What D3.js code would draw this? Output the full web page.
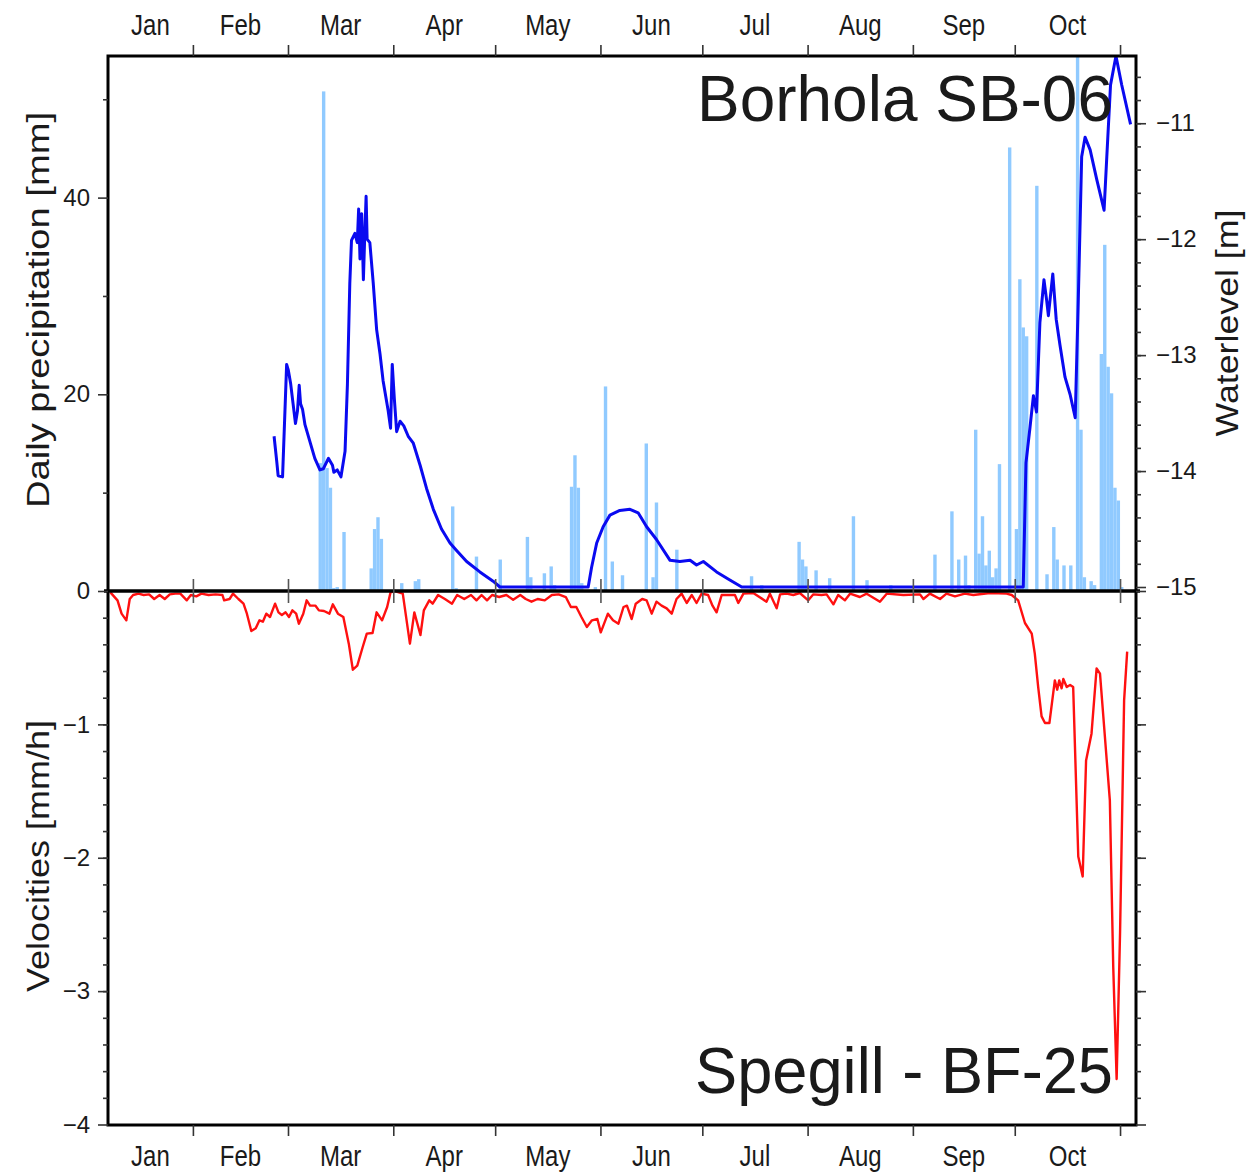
<!DOCTYPE html>
<html>
<head>
<meta charset="utf-8">
<script src="https://cdn.jsdelivr.net/npm/d3@7"></script>
<style>
body { margin: 0; background: #fff; }
text { font-family: "Liberation Sans", Arial, sans-serif; fill: #1a1a1a; }
</style>
</head>
<body>
<script>
// days counted from Jan 1 (0 = Jan 1), year 2015
var monthNames = ["Jan", "Feb", "Mar", "Apr", "May", "Jun", "Jul", "Aug", "Sep", "Oct", "Nov"];

// daily precipitation [mm]
var precipDay = [68, 69, 70, 71, 72, 73, 75, 83, 84, 85, 86, 92, 96, 97, 107, 108, 114, 121, 129, 130,
  134, 136, 137, 142, 143, 144, 145, 149, 152, 154, 157, 164, 166, 167, 173, 195, 198,
  209, 210, 211, 214, 218, 225, 229, 236, 249, 254, 256, 258, 259, 261, 262, 263, 264, 265, 266, 267, 268,
  271, 273, 274, 275, 276, 279, 282, 284, 285, 287, 289, 291, 292, 293, 295, 296,
  298, 299, 300, 301, 302, 303, 304];
var precipMm = [13, 50.8, 12.5, 10.5, 0.3, 0.4, 6, 2.3, 6.3, 7.5, 5.3, 0.8, 1.0, 1.2, 8.6, 0.3, 3.5, 3.2, 5.5, 1.4,
  1.8, 2.5, 0.6, 10.6, 13.8, 10.5, 0.8, 0.4, 20.8, 3, 1.6, 15, 1.4, 9, 4.2, 1.5, 0.6,
  5, 3.2, 2.5, 2.1, 1.3, 7.6, 1.1, 0.6, 3.7, 8.1, 3.2, 3.6, 0.6, 16.4, 3.8, 7.6, 2.6, 4.1, 1.4, 2.3, 12.9,
  45.1, 6.3, 31.7, 26.8, 25.9, 41.2, 1.7, 6.5, 3.2, 2.6, 2.6, 58, 16.4, 1.4, 1.0, 0.6,
  24.1, 35.2, 22.8, 20.1, 10.5, 9.2, 0.4];

// waterlevel [m]
var levelDay = [54.9, 55.7, 56.1, 57.4, 58.6, 59.1, 59.8, 60.5, 61.2, 61.8, 62.3, 62.7, 63.3, 64.0, 65.5, 66.9,
  68.4, 69.4, 70.9, 72.1, 72.5, 73.5, 74.6, 75.8, 76.5, 77.2, 77.7, 78.7, 79.4, 79.8, 80.2, 80.7, 81.2,
  81.6, 82.0, 82.3, 83.1, 84.1, 85.1, 86.1, 87.0, 88.5, 89.2, 89.7, 90.3, 91.0, 92.0, 93.1, 94.4, 95.9,
  97.9, 99.8, 101.8, 104.2, 106.7, 108.5, 111.6, 115.5, 119.4, 121.4, 147.4, 148.4, 149.9, 151.8, 153.8,
  156.7, 159.7, 162.1, 164.6, 167.5, 171.5, 174.4, 177.4, 179.3, 181.3, 185.2, 189.1, 192.6, 275.5,
  276.3, 277.5, 278.5, 279.4, 280.4, 281.6, 282.4, 282.9, 284.2, 285.2, 286.3, 287.8, 289.3, 290.8,
  291.7, 292.7, 293.7, 295.2, 297.1, 299.3, 300.1, 301.2, 302.8, 304.5, 307.1];
var levelM = [-13.70, -13.92, -14.04, -14.05, -13.08, -13.13, -13.25, -13.42, -13.59, -13.48, -13.26, -13.42,
  -13.47, -13.60, -13.75, -13.89, -13.99, -13.98, -13.89, -13.95, -14.01, -13.99, -14.05, -13.83, -13.25,
  -12.38, -12.01, -11.95, -12.03, -11.74, -12.17, -11.78, -12.35, -11.97, -11.63, -12.00, -12.03, -12.38,
  -12.78, -12.99, -13.22, -13.48, -13.63, -13.08, -13.37, -13.66, -13.57, -13.61, -13.70, -13.76, -13.95,
  -14.15, -14.33, -14.50, -14.62, -14.68, -14.78, -14.87, -14.95, -15.0, -15.0, -14.83, -14.62, -14.48,
  -14.38, -14.34, -14.33, -14.36, -14.48, -14.59, -14.77, -14.78, -14.77, -14.81, -14.78, -14.87, -14.94,
  -15.0, -15.0, -13.93, -13.62, -13.35, -13.49, -12.72, -12.35, -12.53, -12.66, -12.30, -12.69, -12.91,
  -13.19, -13.34, -13.54, -12.53, -11.29, -11.12, -11.23, -11.48, -11.75, -11.29, -10.67, -10.42, -10.67,
  -11.01];

// velocities [mm/h]
var velDay = [6.7, 8.8, 10, 11.4, 12.4, 13.4, 15, 16.5, 18.1, 19.6, 21.2, 22.7, 24.2, 25.8, 27.3, 29.2, 30.4,
  32, 33.5, 35.6, 37.7, 39.7, 40.2, 41.8, 42.8, 44.4, 45.9, 46.9, 48.2, 49.5, 50.6, 51.6, 52.6, 53.7, 55.2,
  56.2, 57.2, 58.3, 59.3, 60.3, 61.4, 62.2, 63.5, 64.5, 65.5, 67.1, 68.1, 69.6, 71.2, 72.2, 73.7, 75.3,
  76.9, 78.1, 79.4, 81, 82.2, 83.9, 85.1, 86.7, 88.2, 89.2, 90.5, 92.8, 94.9, 96.2, 98, 99, 100.6, 101.6,
  103.2, 105.2, 107.3, 108.8, 110.9, 112.9, 114.5, 116, 117.6, 119.1, 121.2, 123.3, 125.3, 127.4, 129,
  130.7, 132.5, 134.6, 136.7, 138.7, 140.8, 142.3, 143.9, 145.4, 147, 148.5, 150.1, 151.1, 153.2, 154.7,
  156.3, 157.8, 158.8, 160.2, 161.4, 163.3, 164.6, 166.1, 167.5, 169.0, 170.5, 172.0, 173.4, 174.9, 176.4,
  177.9, 179.3, 180.8, 182.7, 184.0, 185.2, 186.7, 188.2, 190.6, 191.6, 193.1, 196.0, 199.9, 200.9, 202.9,
  203.9, 205.8, 207.8, 209.7, 212.2, 213.7, 216.1, 217.6, 219.6, 221.0, 223.0, 224.5, 227.4, 229.4, 233.3,
  235.3, 240.2, 245.1, 246.1, 248.0, 251.0, 252.9, 255.4, 258.3, 260.8, 265.7, 270.6, 272.1, 274.0, 276.0,
  278.0, 278.9, 279.9, 280.9, 281.9, 283.2, 284.8, 285.5, 286.1, 286.8, 287.3, 288.3, 289.3, 290.2, 291.7,
  293.0, 294.0, 295.6, 297.1, 298.1, 301.0, 302.0, 303.0, 304.0, 305.2, 306.1];
var velMmh = [-0.01, -0.07, -0.17, -0.22, -0.06, -0.03, -0.02, -0.03, -0.025, -0.06, -0.03, -0.06, -0.025,
  -0.02, -0.02, -0.07, -0.03, -0.04, -0.02, -0.03, -0.025, -0.03, -0.07, -0.06, -0.02, -0.06, -0.095, -0.17,
  -0.30, -0.28, -0.22, -0.23, -0.17, -0.195, -0.095, -0.16, -0.18, -0.16, -0.195, -0.145, -0.17, -0.245,
  -0.17, -0.07, -0.11, -0.11, -0.145, -0.15, -0.17, -0.10, -0.17, -0.195, -0.395, -0.59, -0.56, -0.42,
  -0.32, -0.315, -0.16, -0.22, -0.12, -0.01, 0.0, -0.02, -0.395, -0.16, -0.33, -0.145, -0.07, -0.095,
  -0.03, -0.06, -0.095, -0.03, -0.06, -0.03, -0.07, -0.03, -0.07, -0.03, -0.045, -0.03, -0.065, -0.03,
  -0.06, -0.08, -0.06, -0.07, -0.03, -0.025, -0.045, -0.12, -0.12, -0.195, -0.27, -0.22, -0.21, -0.31,
  -0.17, -0.22, -0.245, -0.12, -0.11, -0.21, -0.095, -0.06, -0.07, -0.17, -0.08, -0.11, -0.13, -0.17,
  -0.06, -0.02, -0.09, -0.03, -0.09, -0.02, -0.03, -0.11, -0.16, -0.03, -0.03, -0.03, -0.09, -0.02,
  -0.015, -0.08, -0.02, -0.13, -0.025, -0.02, -0.03, -0.015, -0.07, -0.025, -0.03, -0.025, -0.10, -0.03,
  -0.07, -0.02, -0.045, -0.02, -0.08, -0.02, -0.03, -0.025, -0.06, -0.02, -0.06, -0.02, -0.04, -0.02,
  -0.03, -0.015, -0.02, -0.03, -0.07, -0.24, -0.32, -0.47, -0.72, -0.94, -0.99, -0.99, -0.67, -0.74,
  -0.67, -0.73, -0.66, -0.72, -0.705, -0.72, -1.99, -2.14, -1.27, -1.07, -0.58, -0.62, -1.57, -2.82,
  -3.66, -2.57, -0.82, -0.455];

var precipMajor = [0, 20, 40], precipMinor = [10, 30, 50];
var levelMajor = [-11, -12, -13, -14, -15];
var velMajor = [0, -1, -2, -3, -4];

var L = 108, R = 1136, T = 56, M = 591, B = 1125;
var t0 = Date.UTC(2015, 0, 1);
function dayDate(d) { return new Date(t0 + d * 864e5); }

var x = d3.scaleUtc().domain([dayDate(6.0), dayDate(308.7)]).range([L, R]);
var yP = d3.scaleLinear().domain([0, 54.4]).range([M, T]);
var yW = d3.scaleLinear().domain([-15, -10.42]).range([587, T]);
var yV = d3.scaleLinear().domain([-4, 0]).range([1124.5, M]);

var svg = d3.select("body").append("svg").attr("width", 1249).attr("height", 1175);

svg.append("clipPath").attr("id", "up").append("rect")
  .attr("x", L).attr("y", T).attr("width", R - L).attr("height", M - T);
svg.append("clipPath").attr("id", "all").append("rect")
  .attr("x", L).attr("y", T).attr("width", R - L).attr("height", B - T);

// precipitation bars
svg.append("g").attr("clip-path", "url(#up)")
  .selectAll("rect").data(precipDay).enter().append("rect")
  .attr("x", function (d) { return x(dayDate(d)); })
  .attr("width", function (d) { return x(dayDate(d + 1)) - x(dayDate(d)); })
  .attr("y", function (d, i) { return yP(precipMm[i]); })
  .attr("height", function (d, i) { return M - yP(precipMm[i]); })
  .attr("fill", "#90caff");

var lineW = d3.line()
  .x(function (d) { return x(dayDate(d)); })
  .y(function (d, i) { return yW(levelM[i]); });
svg.append("path").attr("clip-path", "url(#all)")
  .attr("d", lineW(levelDay))
  .attr("fill", "none").attr("stroke", "#0a0af0").attr("stroke-width", 3)
  .attr("stroke-linejoin", "round");

var lineV = d3.line()
  .x(function (d) { return x(dayDate(d)); })
  .y(function (d, i) { return yV(velMmh[i]); });
svg.append("path").attr("clip-path", "url(#all)")
  .attr("d", lineV(velDay))
  .attr("fill", "none").attr("stroke", "#ff1010").attr("stroke-width", 2.4)
  .attr("stroke-linejoin", "round");

// frame and zero line
svg.append("rect").attr("x", L).attr("y", T).attr("width", R - L).attr("height", B - T)
  .attr("fill", "none").attr("stroke", "#000").attr("stroke-width", 3);
svg.append("line").attr("x1", L - 4).attr("x2", R + 4).attr("y1", M).attr("y2", M)
  .attr("stroke", "#000").attr("stroke-width", 3.5);

function styleAxis(g) {
  g.select(".domain").remove();
  g.selectAll(".tick line").attr("stroke", "#333").attr("stroke-width", 1.6);
  g.selectAll(".tick text").attr("font-size", 24).attr("fill", "#1a1a1a")
    .attr("font-family", "'Liberation Sans', Arial, sans-serif");
}

var fmt = d3.format("d");
var monthStarts = d3.utcMonth.range(dayDate(6.0), dayDate(308.7));

// month ticks
svg.append("g").attr("transform", "translate(0," + T + ")")
  .call(d3.axisTop(x).tickValues(monthStarts).tickSize(11).tickFormat("")).call(styleAxis);
svg.append("g").attr("transform", "translate(0," + B + ")")
  .call(d3.axisBottom(x).tickValues(monthStarts).tickSize(11).tickFormat("")).call(styleAxis);
svg.append("g").attr("transform", "translate(0," + (M - 12) + ")")
  .call(d3.axisBottom(x).tickValues(monthStarts).tickSize(24).tickFormat("")).call(styleAxis)
  .selectAll(".tick line").attr("stroke", "#555");

// month labels
var d0 = x.domain()[0], d1 = x.domain()[1];
var monthLabels = monthStarts.slice();
monthLabels.unshift(d3.utcMonth.floor(d0));
monthLabels = monthLabels.filter(function (m) {
  var a = Math.max(+m, +d0), b = Math.min(+d3.utcMonth.offset(m, 1), +d1);
  return (b - a) > 10 * 864e5;
});
[35, 1166].forEach(function (yy) {
  svg.append("g").selectAll("g").data(monthLabels).enter().append("g")
    .attr("transform", function (m) {
      var a = Math.max(+m, +d0), b = Math.min(+d3.utcMonth.offset(m, 1), +d1);
      return "translate(" + x(new Date((a + b) / 2)) + "," + yy + ")";
    })
    .append("text").attr("text-anchor", "middle").attr("font-size", 30)
    .attr("transform", "scale(0.8,1)")
    .text(function (m) { return monthNames[m.getUTCMonth()]; });
});

// left axes
svg.append("g").attr("transform", "translate(" + L + ",0)")
  .call(d3.axisLeft(yP).tickValues(precipMajor).tickSize(10).tickPadding(8).tickFormat(fmt)).call(styleAxis);
svg.append("g").attr("transform", "translate(" + L + ",0)")
  .call(d3.axisLeft(yP).tickValues(precipMinor).tickSize(5).tickFormat("")).call(styleAxis);
var velMinor = d3.range(-3.8, -0.05, 0.2);
svg.append("g").attr("transform", "translate(" + L + ",0)")
  .call(d3.axisLeft(yV).tickValues(velMajor.slice(1)).tickSize(10).tickPadding(8).tickFormat(fmt)).call(styleAxis);
svg.append("g").attr("transform", "translate(" + L + ",0)")
  .call(d3.axisLeft(yV).tickValues(velMinor).tickSize(5).tickFormat("")).call(styleAxis);

// right axes
var levelMinor = d3.range(-14.8, -10.42, 0.2);
svg.append("g").attr("transform", "translate(" + R + ",0)")
  .call(d3.axisRight(yW).tickValues(levelMajor).tickSize(10).tickPadding(10).tickFormat(fmt)).call(styleAxis);
svg.append("g").attr("transform", "translate(" + R + ",0)")
  .call(d3.axisRight(yW).tickValues(levelMinor).tickSize(5).tickFormat("")).call(styleAxis);
svg.append("g").attr("transform", "translate(" + R + ",0)")
  .call(d3.axisRight(yV).tickValues(velMajor).tickSize(10).tickFormat("")).call(styleAxis);
svg.append("g").attr("transform", "translate(" + R + ",0)")
  .call(d3.axisRight(yV).tickValues(velMinor).tickSize(5).tickFormat("")).call(styleAxis);

// axis titles
function vtitle(xx, yy, len, s) {
  svg.append("text").attr("transform", "translate(" + xx + "," + yy + ") rotate(-90)")
    .attr("text-anchor", "middle").attr("font-size", 31)
    .attr("textLength", len).attr("lengthAdjust", "spacingAndGlyphs").text(s);
}
vtitle(49, 310, 396, "Daily precipitation [mm]");
vtitle(49, 856, 272, "Velocities [mm/h]");
vtitle(1238, 323, 227, "Waterlevel [m]");

// station names
svg.append("text").attr("x", 1113).attr("y", 121).attr("text-anchor", "end")
  .attr("font-family", "Lato, 'Open Sans', sans-serif").attr("font-size", 64).attr("fill", "#000")
  .attr("textLength", 416).attr("lengthAdjust", "spacingAndGlyphs").text("Borhola SB-06");
svg.append("text").attr("x", 1113).attr("y", 1093).attr("text-anchor", "end")
  .attr("font-family", "Lato, 'Open Sans', sans-serif").attr("font-size", 64).attr("fill", "#000")
  .attr("textLength", 418).attr("lengthAdjust", "spacingAndGlyphs").text("Spegill - BF-25");
</script>
</body>
</html>
